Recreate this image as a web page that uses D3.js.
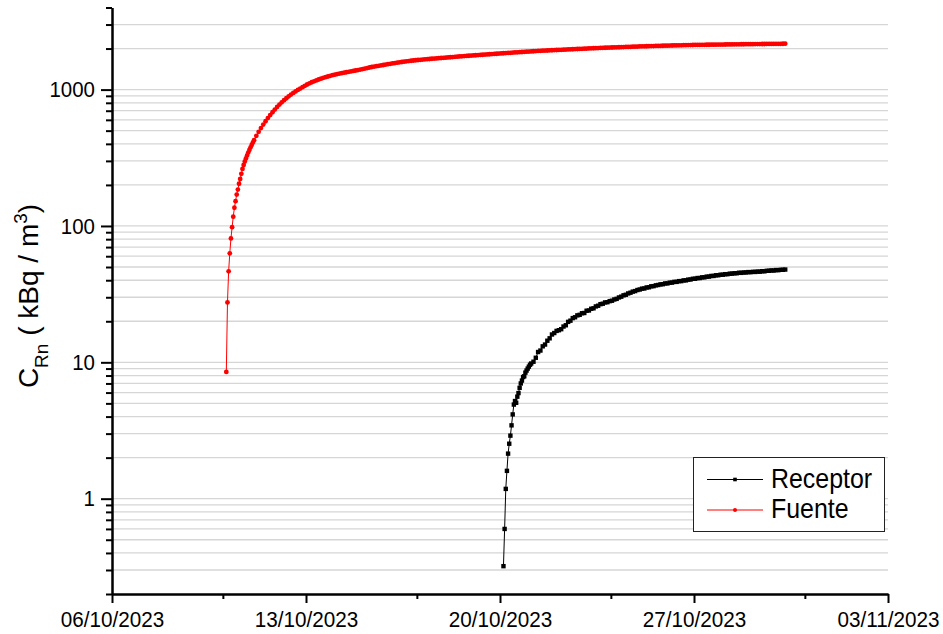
<!DOCTYPE html>
<html>
<head>
<meta charset="utf-8">
<script src="https://cdn.jsdelivr.net/npm/d3@7"></script>
<style>
  body { margin: 0; background: #fff; }
  svg { font-family: "Liberation Sans", Arial, sans-serif; }
</style>
</head>
<body>
<svg id="chart" width="943" height="634"></svg>
<script>
// Data: radon concentration (kBq/m3), hourly at first, then every 2 hours
const fuenteStart = "10/10/2023 03:00";
const fuenteHourly = [8.5, 27.5, 46.5, 63, 81, 98, 117, 136, 152, 170, 185, 204, 221,
  241, 262, 280, 297, 313, 329, 345, 361, 377, 393, 409, 426];
const fuenteTwoHourly = [
  458, 490, 522, 554, 586, 618, 650, 682, 714, 746, 776, 806,
  836, 864, 892, 920, 946, 970, 994, 1018, 1042, 1066, 1090, 1112,
  1132, 1150, 1168, 1186, 1203, 1219, 1234, 1248, 1262, 1275, 1287, 1299,
  1310, 1320, 1330, 1340, 1350, 1360, 1370, 1380, 1391, 1402, 1413, 1426,
  1439, 1452, 1464, 1475, 1485, 1495, 1505, 1515, 1525, 1535, 1545, 1555,
  1565, 1575, 1585, 1594, 1603, 1612, 1620, 1628, 1635, 1642, 1648, 1654,
  1660, 1666, 1672, 1677, 1683, 1688, 1694, 1699, 1705, 1710, 1715, 1721,
  1727, 1733, 1739, 1744, 1750, 1755, 1760, 1765, 1771, 1776, 1781, 1786,
  1791, 1796, 1801, 1806, 1812, 1817, 1822, 1827, 1832, 1837, 1843, 1847,
  1852, 1857, 1862, 1867, 1872, 1876, 1881, 1886, 1891, 1896, 1901, 1906,
  1911, 1915, 1920, 1925, 1929, 1933, 1936, 1940, 1944, 1948, 1951, 1955,
  1959, 1962, 1966, 1970, 1973, 1977, 1981, 1984, 1988, 1992, 1995, 1999,
  2003, 2006, 2010, 2014, 2017, 2021, 2024, 2027, 2030, 2033, 2036, 2039,
  2042, 2045, 2048, 2051, 2054, 2057, 2060, 2063, 2066, 2069, 2072, 2075,
  2078, 2080, 2083, 2085, 2087, 2090, 2092, 2094, 2096, 2098, 2100, 2103,
  2105, 2107, 2109, 2111, 2113, 2116, 2118, 2120, 2122, 2124, 2125, 2127,
  2128, 2129, 2130, 2132, 2133, 2134, 2135, 2137, 2138, 2139, 2140, 2142,
  2143, 2144, 2145, 2147, 2148, 2149, 2150, 2151, 2152, 2153, 2154, 2155,
  2156, 2157, 2158, 2159, 2160, 2161, 2162, 2163, 2164, 2165, 2166, 2167,
  2168, 2170];

const receptorStart = "20/10/2023 03:00";
const receptorHourly = [0.32, 0.6, 1.18, 1.6, 2.14, 2.53, 2.9, 3.45, 4.15, 4.9, 5.2, 5.05,
  5.6, 5.95, 6.5, 7.0, 7.35, 7.8, 7.9, 8.4, 8.7, 9.0, 9.3, 9.6, 9.8];
const receptorTwoHourly = [
  10.1, 10.8, 11.9, 12.2, 13.1, 13.5, 14.4, 15.0, 16.0, 16.4, 17.0, 17.2,
  17.5, 18.3, 18.7, 19.8, 20.2, 21.1, 21.4, 22.1, 22.3, 22.9, 23.0, 23.9,
  24.0, 24.7, 24.9, 25.7, 26.0, 26.7, 26.9, 27.5, 27.6, 28.1, 28.3, 28.9,
  29.2, 29.9, 30.3, 31.0, 31.3, 32.0, 32.4, 33.0, 33.3, 33.9, 34.2, 34.7,
  34.8, 35.4, 35.5, 36.1, 36.2, 36.7, 36.9, 37.3, 37.4, 37.9, 37.9, 38.4,
  38.4, 38.9, 38.9, 39.4, 39.4, 39.9, 39.9, 40.4, 40.5, 41.0, 41.0, 41.5,
  41.5, 42.0, 42.0, 42.5, 42.5, 43.0, 43.0, 43.5, 43.5, 43.9, 43.9, 44.3,
  44.3, 44.7, 44.7, 45.0, 45.0, 45.4, 45.3, 45.6, 45.6, 45.9, 45.8, 46.1,
  46.0, 46.3, 46.2, 46.6, 46.5, 46.9, 46.9, 47.2, 47.1, 47.5, 47.4, 47.7,
  47.7, 47.9];

const xTickLabels = ["06/10/2023", "13/10/2023", "20/10/2023", "27/10/2023", "03/11/2023"];
const xMinorTicks = ["10/10/2023", "17/10/2023", "24/10/2023", "31/10/2023"];
const yMajorTicks = [1, 10, 100, 1000];
const yMinorTicks = [0.2, 0.3, 0.4, 0.5, 0.6, 0.7, 0.8, 0.9,
  2, 3, 4, 5, 6, 7, 8, 9, 20, 30, 40, 50, 60, 70, 80, 90,
  200, 300, 400, 500, 600, 700, 800, 900, 2000, 3000, 4000];
const seriesNames = ["Receptor", "Fuente"];
const seriesColors = ["#000000", "#ff0000"];

// Helpers
const parseDay = d3.timeParse("%d/%m/%Y");
const parseHour = d3.timeParse("%d/%m/%Y %H:%M");
const fmtDay = d3.timeFormat("%d/%m/%Y");

function buildSeries(start, hourly, twoHourly) {
  const t0 = parseHour(start);
  const pts = hourly.map((v, i) => ({ t: d3.timeHour.offset(t0, i), v }));
  const last = hourly.length - 1;
  twoHourly.forEach((v, j) => {
    pts.push({ t: d3.timeHour.offset(t0, last + 2 * (j + 1)), v });
  });
  return pts;
}

const receptor = buildSeries(receptorStart, receptorHourly, receptorTwoHourly);
const fuente = buildSeries(fuenteStart, fuenteHourly, fuenteTwoHourly);

// Layout
const X0 = 112, X1 = 888, Y0 = 594, Y1 = 7.5;
const SQ = 4.4;   // receptor square size
const DOT = 2.4;  // fuente circle radius
const svg = d3.select("#chart");

const x = d3.scaleTime()
  .domain([parseDay(xTickLabels[0]), parseDay(xTickLabels[xTickLabels.length - 1])])
  .range([X0, X1]);
const y = d3.scaleLog().domain([0.2, 4000]).range([Y0, Y1]);

// Grid lines (major + minor, light grey)
const gridVals = yMajorTicks.concat(yMinorTicks).filter(v => v > 0.2 && v < 4000);
svg.append("g")
  .selectAll("line")
  .data(gridVals)
  .join("line")
  .attr("x1", X0).attr("x2", X1)
  .attr("y1", d => y(d)).attr("y2", d => y(d))
  .attr("stroke", "#d6d6d6")
  .attr("stroke-width", 1.3);

// Series
const line = d3.line().x(d => x(d.t)).y(d => y(d.v));

svg.append("path")
  .datum(receptor)
  .attr("fill", "none")
  .attr("stroke", seriesColors[0])
  .attr("stroke-width", 1)
  .attr("d", line);
svg.append("g")
  .selectAll("rect")
  .data(receptor)
  .join("rect")
  .attr("x", d => x(d.t) - SQ / 2)
  .attr("y", d => y(d.v) - SQ / 2)
  .attr("width", SQ)
  .attr("height", SQ)
  .attr("fill", seriesColors[0]);

svg.append("path")
  .datum(fuente)
  .attr("fill", "none")
  .attr("stroke", seriesColors[1])
  .attr("stroke-width", 1)
  .attr("d", line);
svg.append("g")
  .selectAll("circle")
  .data(fuente)
  .join("circle")
  .attr("cx", d => x(d.t))
  .attr("cy", d => y(d.v))
  .attr("r", DOT)
  .attr("fill", seriesColors[1]);

// Axes
function styleAxis(g) {
  g.select(".domain").attr("stroke", "#000").attr("stroke-width", 2);
  g.selectAll(".tick line").attr("stroke", "#000").attr("stroke-width", 2);
  g.selectAll("text").attr("fill", "#000").style("font-size", "22px");
}

// x minor ticks
svg.append("g")
  .attr("transform", `translate(0,${Y0})`)
  .call(d3.axisBottom(x).tickValues(xMinorTicks.map(parseDay)).tickSize(5).tickSizeOuter(0).tickFormat(""))
  .call(styleAxis);

// x major ticks
svg.append("g")
  .attr("transform", `translate(0,${Y0})`)
  .call(d3.axisBottom(x).tickValues(xTickLabels.map(parseDay)).tickSize(9).tickSizeOuter(0).tickFormat(fmtDay))
  .call(styleAxis)
  .call(g => g.selectAll("text").attr("y", 17).attr("transform", "scale(0.94,1)"));

// y minor ticks
svg.append("g")
  .attr("transform", `translate(${X0},0)`)
  .call(d3.axisLeft(y).tickValues(yMinorTicks).tickSize(6).tickSizeOuter(0).tickFormat(""))
  .call(styleAxis);

// y major ticks
svg.append("g")
  .attr("transform", `translate(${X0},0)`)
  .call(d3.axisLeft(y).tickValues(yMajorTicks).tickSize(11).tickSizeOuter(0).tickFormat(d3.format("d")))
  .call(styleAxis)
  .call(g => g.selectAll("text").attr("x", -18.3).attr("transform", "scale(0.93,1)"));

// y axis title: C_Rn ( kBq / m^3 )
const title = svg.append("text")
  .attr("transform", "translate(38,296) rotate(-90)")
  .attr("text-anchor", "middle")
  .style("font-size", "28px")
  .attr("fill", "#000");
title.append("tspan").text("C");
title.append("tspan").attr("dy", 10).style("font-size", "19px").text("Rn");
title.append("tspan").attr("dy", -10).text(" ( kBq / m");
title.append("tspan").attr("dy", -11).style("font-size", "19px").text("3");
title.append("tspan").attr("dy", 11).text(")");

// Legend
const legend = svg.append("g");
legend.append("rect")
  .attr("x", 693.5).attr("y", 457.5)
  .attr("width", 191).attr("height", 74)
  .attr("fill", "#fff")
  .attr("stroke", "#222")
  .attr("stroke-width", 1);

const legendRows = [479.5, 510];
const legendBase = [487.7, 518.3];
seriesNames.forEach((name, i) => {
  const ly = legendRows[i];
  legend.append("line")
    .attr("x1", 707).attr("x2", 763)
    .attr("y1", ly).attr("y2", ly)
    .attr("stroke", seriesColors[i])
    .attr("stroke-width", 1);
  if (i === 0) {
    legend.append("rect")
      .attr("x", 735 - 1.8).attr("y", ly - 1.8)
      .attr("width", 3.6).attr("height", 3.6)
      .attr("fill", seriesColors[i]);
  } else {
    legend.append("circle")
      .attr("cx", 735).attr("cy", ly).attr("r", 2)
      .attr("fill", seriesColors[i]);
  }
  legend.append("text")
    .attr("transform", `translate(771,${legendBase[i]}) scale(0.89,1)`)
    .style("font-size", "28px")
    .attr("fill", "#000")
    .text(name);
});
</script>
</body>
</html>
